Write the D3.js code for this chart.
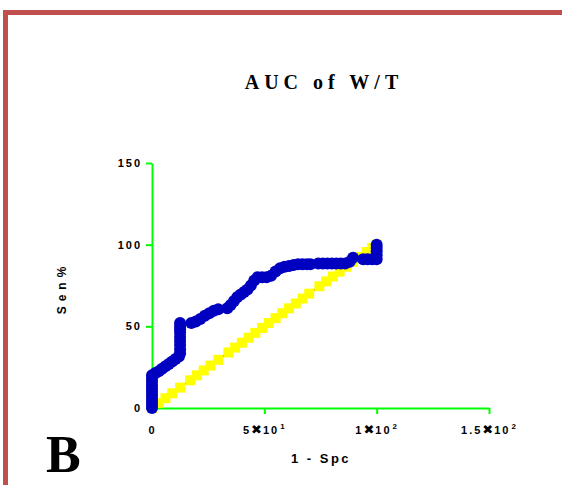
<!DOCTYPE html>
<html>
<head>
<meta charset="utf-8">
<script src="https://cdn.jsdelivr.net/npm/d3@7"></script>
<style>
  body { margin: 0; background: #fff; }
  svg { display: block; }
</style>
</head>
<body>
<div id="chart"></div>
<script>
// ROC points (x = 1 - Spc, y = Sen%)
const rocX = [0, 0, 0, 0, 0, 0, 0, 0, 0, 0, 0,
  1.5, 3, 4.5, 6, 7.5, 9, 10.5, 12,
  12.5, 12.5, 12.5, 12.5, 12.5, 12.5, 12.5, 12.5, 12.5,
  17.5, 19.5, 21.5, 23.5, 25.5, 27.5, 29.5,
  33.5, 35, 36.5, 38, 39.5, 41, 42.5, 44, 45.5, 47, 49, 51, 53, 55, 57, 59, 61, 63, 65, 67, 69, 70.5,
  74, 76, 78, 80, 82, 84, 86, 88, 89.5,
  94, 96, 98, 100, 100, 100, 100, 100];
const rocY = [0, 2, 4, 6, 8, 10, 12, 14, 16, 18, 20,
  21.5, 22.5, 24, 25.5, 27, 28.5, 30, 31.5,
  33.5, 36, 38.5, 41, 43.5, 46, 48, 50, 52,
  52, 53, 54.5, 56.5, 58, 59.5, 60.5,
  61, 63, 65.5, 68, 69.5, 71, 72.5, 75, 78, 80, 80, 80, 81, 83.5, 85.5, 86.5, 87, 87.5, 88, 88, 88, 88,
  88.5, 88.5, 88.5, 88.5, 88.5, 88.5, 88.5, 89.5, 92,
  91, 91, 91, 91, 93.5, 96, 98, 100];

// reference (chance) line points
const refX = [0, 3, 6, 9, 12.5, 17, 20, 23, 26, 29.5, 34, 37, 40, 43, 46, 49, 52, 55, 58, 61, 64, 67, 70,
  74.5, 77.5, 80.5, 83.5, 86.5, 89.5, 92.5, 95.5, 98, 100];
const refY = [0, 3, 6, 9, 12.5, 17, 20, 23, 26, 29.5, 34, 37, 40, 43, 46, 49, 52, 55, 58, 61, 64, 67, 70,
  74.5, 77.5, 80.5, 83.5, 86.5, 89.5, 92.5, 95.5, 98, 100];

const yTicks = [0, 50, 100, 150];
const xTicks = [0, 50, 100, 150];
// mantissa, exponent for the x tick labels
const xTickLabels = [["0", ""], ["5", "1"], ["1", "2"], ["1.5", "2"]];

const width = 562, height = 485;

const svg = d3.select("#chart").append("svg")
  .attr("width", width).attr("height", height);

// frame
svg.append("path")
  .attr("d", "M5.5,485 V12.5 H562")
  .attr("fill", "none")
  .attr("stroke", "#c0504d")
  .attr("stroke-width", 5);

const x = d3.scaleLinear().domain([0, 150]).range([152, 489]);
const y = d3.scaleLinear().domain([0, 150]).range([408, 163]);

// title
svg.append("text")
  .attr("x", 324).attr("y", 89)
  .attr("text-anchor", "middle")
  .style("font-family", "'Liberation Serif', 'Times New Roman', serif")
  .style("font-weight", "bold")
  .style("font-size", "20px")
  .style("letter-spacing", "5px")
  .text("AUC of W/T");

// axes
const yAxis = svg.append("g")
  .attr("transform", "translate(152,0)")
  .call(d3.axisLeft(y).tickValues(yTicks).tickSize(6).tickSizeOuter(0).tickPadding(4));

const xAxis = svg.append("g")
  .attr("transform", "translate(0,408)")
  .call(d3.axisBottom(x).tickValues(xTicks).tickSize(6).tickSizeOuter(0).tickPadding(12).tickFormat(""));

[yAxis, xAxis].forEach((g) => {
  g.select(".domain").attr("stroke", "#00ff00").attr("stroke-width", 2);
  g.selectAll(".tick line").attr("stroke", "#00ff00").attr("stroke-width", 2);
  g.selectAll("text")
    .style("font-family", "'Liberation Sans', Arial, sans-serif")
    .style("font-weight", "bold")
    .style("font-size", "11px")
    .style("letter-spacing", "2px")
    .attr("fill", "#000");
});
xAxis.select(".tick line").attr("stroke", "none");

// x tick labels with powers of ten
xAxis.selectAll(".tick text").each(function (d, i) {
  const t = d3.select(this).text(null);
  const [m, e] = xTickLabels[i];
  t.append("tspan").text(m);
  if (e) {
    t.append("tspan")
      .style("font-family", "'DejaVu Sans', sans-serif")
      .style("font-size", "13px")
      .style("letter-spacing", "1px")
      .text("\u2716");
    t.append("tspan").text("10");
    t.append("tspan").attr("dy", -5).attr("dx", 1).style("font-size", "8px").text(e);
  }
});

// axis titles
svg.append("text")
  .attr("x", 321).attr("y", 463)
  .attr("text-anchor", "middle")
  .style("font-family", "'Liberation Sans', Arial, sans-serif")
  .style("font-weight", "bold")
  .style("font-size", "13px")
  .style("letter-spacing", "2.5px")
  .text("1 - Spc");

svg.append("text")
  .attr("transform", "translate(66,288) rotate(-90)")
  .attr("text-anchor", "middle")
  .style("font-family", "'Liberation Sans', Arial, sans-serif")
  .style("font-weight", "bold")
  .style("font-size", "12px")
  .style("letter-spacing", "5px")
  .text("Sen%");

// panel letter
svg.append("text")
  .attr("x", 46).attr("y", 472)
  .style("font-family", "'Liberation Serif', 'Times New Roman', serif")
  .style("font-weight", "bold")
  .style("font-size", "52px")
  .text("B");

// series
const line = d3.line().x((d) => x(d[0])).y((d) => y(d[1]));
const refData = refX.map((v, i) => [v, refY[i]]);
const rocData = rocX.map((v, i) => [v, rocY[i]]);

svg.append("path").datum(refData)
  .attr("d", line).attr("fill", "none")
  .attr("stroke", "#c00000").attr("stroke-width", 1.5);

svg.append("g").selectAll("rect").data(refData).join("rect")
  .attr("x", (d) => x(d[0]) - 5)
  .attr("y", (d) => y(d[1]) - 5)
  .attr("width", 10).attr("height", 10)
  .attr("fill", "#ffff00");

svg.append("path").datum(rocData)
  .attr("d", line).attr("fill", "none")
  .attr("stroke", "#c00000").attr("stroke-width", 1.5);

svg.append("g").selectAll("circle").data(rocData).join("circle")
  .attr("cx", (d) => x(d[0]))
  .attr("cy", (d) => y(d[1]))
  .attr("r", 6)
  .attr("fill", "#0000c0");
</script>
</body>
</html>
